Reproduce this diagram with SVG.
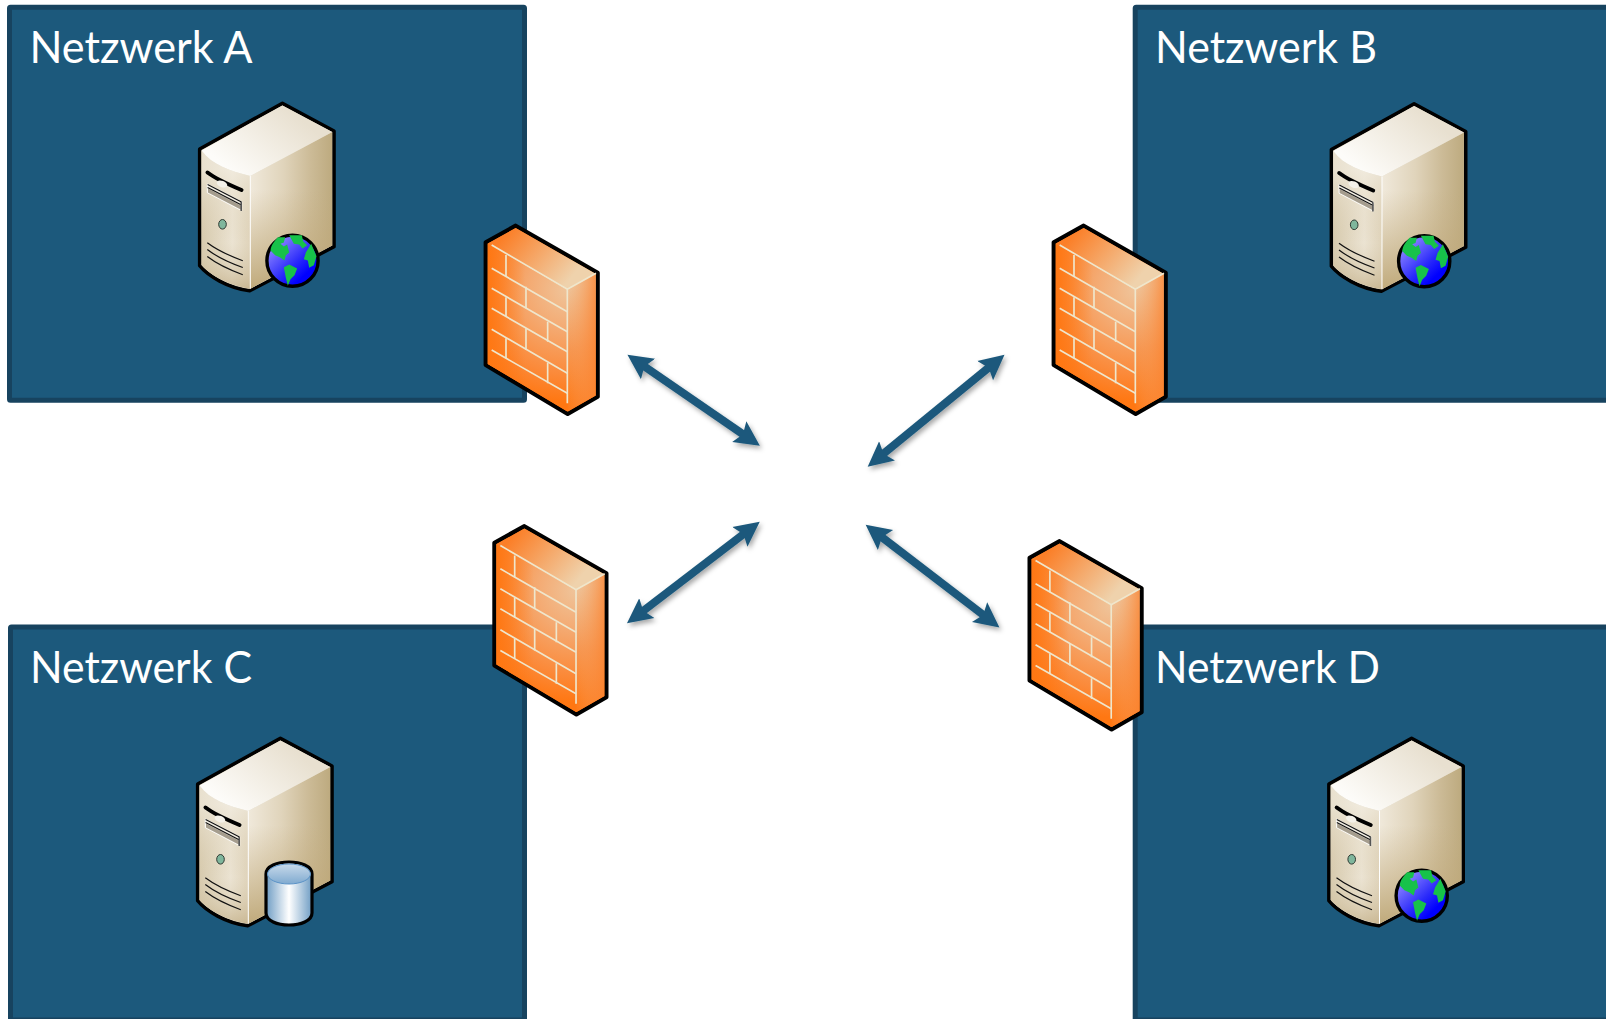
<svg xmlns="http://www.w3.org/2000/svg" xmlns:xlink="http://www.w3.org/1999/xlink" width="1606" height="1019" viewBox="0 0 1606 1019">
<style>
.net{fill:#1c597c;stroke:#17435f;stroke-width:5}
.lbl{font-family:"Lato","Open Sans","Liberation Sans",sans-serif;font-size:44px;fill:#fff}
.arr{fill:none;stroke:#1c597c;stroke-width:8;marker-start:url(#head);marker-end:url(#head)}
.brick{fill:none;stroke:#efe6cc}
.edge{stroke:#000;stroke-linejoin:round}
</style>
<defs>
<marker id="head" markerUnits="userSpaceOnUse" markerWidth="28" markerHeight="28" refX="14" refY="13" orient="auto-start-reverse" viewBox="0 0 28 28"><path d="M25,13 L0,0.5 L4.5,13 L0,25.5 Z" fill="#1c597c"/></marker>
<filter id="soft" x="-20%" y="-20%" width="140%" height="140%"><feDropShadow dx="2" dy="3" stdDeviation="2.5" flood-color="#000" flood-opacity=".35"/></filter>
<linearGradient id="srvTop" gradientUnits="userSpaceOnUse" x1="235" y1="175" x2="290" y2="110"><stop offset="0" stop-color="#fdfcf9"/><stop offset="1" stop-color="#e8e0d0"/></linearGradient>
<linearGradient id="srvFront" gradientUnits="userSpaceOnUse" x1="200" y1="0" x2="250" y2="0"><stop offset="0" stop-color="#d6c9ac"/><stop offset=".65" stop-color="#ebe3d2"/><stop offset="1" stop-color="#dfd3ba"/></linearGradient>
<linearGradient id="srvFrontB" gradientUnits="userSpaceOnUse" x1="0" y1="170" x2="0" y2="290"><stop offset="0" stop-color="#f4efe4" stop-opacity=".6"/><stop offset=".6" stop-color="#dacdb1" stop-opacity="0"/><stop offset="1" stop-color="#bfaa80" stop-opacity=".7"/></linearGradient>
<linearGradient id="srvSide" gradientUnits="userSpaceOnUse" x1="250" y1="0" x2="334" y2="0"><stop offset="0" stop-color="#f0e9db"/><stop offset=".4" stop-color="#e0d4bb"/><stop offset=".72" stop-color="#ccbb97"/><stop offset="1" stop-color="#bca97d"/></linearGradient>
<linearGradient id="srvSideB" gradientUnits="userSpaceOnUse" x1="0" y1="190" x2="0" y2="290"><stop offset="0" stop-color="#c4ae82" stop-opacity="0"/><stop offset="1" stop-color="#bda675" stop-opacity=".95"/></linearGradient>
<linearGradient id="globeFill" gradientUnits="userSpaceOnUse" x1="275" y1="243" x2="305" y2="275"><stop offset="0" stop-color="#8c84ff"/><stop offset=".65" stop-color="#2a2afa"/><stop offset="1" stop-color="#0000ff"/></linearGradient>
<linearGradient id="dbBody" gradientUnits="userSpaceOnUse" x1="266" y1="0" x2="312" y2="0"><stop offset="0" stop-color="#6f9dc4"/><stop offset=".5" stop-color="#fff"/><stop offset="1" stop-color="#6f9dc4"/></linearGradient>
<linearGradient id="dbTop" gradientUnits="userSpaceOnUse" x1="0" y1="862" x2="0" y2="884"><stop offset="0" stop-color="#cfdfed"/><stop offset="1" stop-color="#80aad0"/></linearGradient>
<linearGradient id="fwTop" gradientUnits="userSpaceOnUse" x1="505" y1="235" x2="565" y2="285"><stop offset="0" stop-color="#fb7f28"/><stop offset="1" stop-color="#efd2ac"/></linearGradient>
<radialGradient id="fwFace" gradientUnits="userSpaceOnUse" cx="567" cy="290" r="112"><stop offset="0" stop-color="#efc49a"/><stop offset=".35" stop-color="#f4aa72"/><stop offset=".75" stop-color="#fb8a3a"/><stop offset="1" stop-color="#ff7712"/></radialGradient>
<linearGradient id="fwLeft" gradientUnits="userSpaceOnUse" x1="487" y1="0" x2="525" y2="0"><stop offset="0" stop-color="#ff7712"/><stop offset="1" stop-color="#ff7712" stop-opacity="0"/></linearGradient>
<linearGradient id="fwSide" gradientUnits="userSpaceOnUse" x1="575" y1="285" x2="585" y2="410"><stop offset="0" stop-color="#eec59c"/><stop offset=".5" stop-color="#f69650"/><stop offset="1" stop-color="#ff7712"/></linearGradient>
<linearGradient id="fwSideH" gradientUnits="userSpaceOnUse" x1="567" y1="0" x2="598" y2="0"><stop offset="0" stop-color="#f7a86c" stop-opacity="0"/><stop offset="1" stop-color="#fb822e" stop-opacity=".85"/></linearGradient>
<g id="server">
<path d="M199.7,149 L282.4,103.3 L334,131 V246.7 L249.7,290.7 C228,288 208,276 199.7,265.7 Z" fill="#d9cfb8" class="edge" stroke-width="3.6"/>
<path d="M201.5,150.5 C212,165 230,171 250.3,176 V288.7 C230,286 210,275 201.5,265 Z" fill="url(#srvFront)"/>
<path d="M201.5,150.5 C212,165 230,171 250.3,176 V288.7 C230,286 210,275 201.5,265 Z" fill="url(#srvFrontB)"/>
<path d="M250.3,176 L332.2,132 V245.6 L250.3,288.7 Z" fill="url(#srvSide)"/>
<path d="M250.3,176 L332.2,132 V245.6 L250.3,288.7 Z" fill="url(#srvSideB)"/>
<path d="M201.5,150.5 L282.4,105.4 L332.2,132 L250.3,176 C230,171 212,165 201.5,150.5 Z" fill="url(#srvTop)"/>
<path d="M250.3,176 V288.7" stroke="#fff" stroke-width="1" fill="none"/>
<path d="M207.3,184 L241.7,201.7 V210.7 L207.3,192.7 Z" fill="#f2eee4" stroke="#fff" stroke-width=".8"/>
<path d="M208,188.5 L241.7,206 V210 L208,192.5 Z" fill="#a59d8e"/>
<path d="M207.6,184.5 L241.5,202 M207.6,187.5 L241.5,205" fill="none" stroke="#111" stroke-width="1.2"/>
<path d="M241.2,202 V211" stroke="#555" stroke-width="1.6"/>
<path d="M207.5,172.5 C216,179 232,186 241.5,190" fill="none" stroke="#000" stroke-width="4" stroke-linecap="round"/>
<ellipse cx="222" cy="184" rx="5.5" ry="3.2" transform="rotate(22 222 184)" fill="#f4f1e9"/>
<ellipse cx="222.5" cy="224.3" rx="3.8" ry="4.8" fill="#7fb69c" stroke="#2f3a33" stroke-width="1"/>
<path d="M207.3,242.7 C217,250 230,256 242.8,260.7 M207.3,249.5 C217,257 230,263 242.8,267.5 M207.3,256.5 C217,264 230,270 242.8,274.7" fill="none" stroke="#111" stroke-width="1.2"/>
</g>
<g id="globe">
<circle cx="292.5" cy="260.7" r="25.6" fill="url(#globeFill)" stroke="#000" stroke-width="3.4"/>
<g transform="translate(268.5 224.5) scale(.3333)" fill="#17c24a">
<path d="M6,78 C8,60 18,50 28,38 L50,38 L46,54 L36,58 L46,66 L56,60 L62,84 L52,92 L48,108 L34,98 L20,92 Z"/>
<path d="M46,128 L62,120 L86,132 L78,152 L66,164 L58,184 L52,160 Z"/>
<path d="M62,32 L100,32 L104,50 L116,62 L102,72 L92,60 L76,58 Z"/>
<path d="M112,84 L128,58 L144,95 L136,122 L122,130 L118,108 L106,104 Z"/>
</g>
</g>
<g id="firewall">
<path d="M485.7,242.3 L515.7,225.7 L597.7,272.7 V396.7 L567.7,414 L485.7,365 Z" fill="#ff7712" class="edge" stroke-width="4.2"/>
<path d="M487.8,243.6 L567.3,290 V411.6 L487.8,364 Z" fill="url(#fwFace)"/>
<path d="M487.8,243.6 L567.3,290 V411.6 L487.8,364 Z" fill="url(#fwLeft)"/>
<path d="M567.3,290 L595.6,273.8 V395.6 L567.7,411.6 Z" fill="url(#fwSide)"/>
<path d="M567.3,290 L595.6,273.8 V395.6 L567.7,411.6 Z" fill="url(#fwSideH)"/>
<path d="M487.8,243.6 L515.7,228 L595.6,273.8 L567.3,290 Z" fill="url(#fwTop)"/>
<g transform="translate(470 210) scale(.3333)" class="brick" style="stroke-width:5">
<path d="M65,105 L292,238 L378,190 M65,175 L292,305 M65,235 L292,365 M65,295 L292,425 M65,358 L292,490 M65,420 L292,550"/>
<path d="M108,135 V200 M168,230 V295 M108,262 V320 M233,335 V395 M168,355 V420 M108,385 V445 M233,458 V520 M292,238 V580"/>
</g>
</g>
</defs>
<rect width="1606" height="1019" fill="#fff"/>
<g id="netA"><rect class="net" x="9.5" y="7.2" width="515" height="393" rx="1"/><text class="lbl" x="29.5" y="62.5" textLength="223" lengthAdjust="spacingAndGlyphs">Netzwerk A</text></g>
<g id="netB"><rect class="net" x="1135.2" y="7.2" width="480" height="393" rx="1"/><text class="lbl" x="1155" y="62.5" textLength="222" lengthAdjust="spacingAndGlyphs">Netzwerk B</text></g>
<g id="netC"><rect class="net" x="10.5" y="627" width="514" height="393" rx="1"/><text class="lbl" x="30" y="682.5" textLength="222" lengthAdjust="spacingAndGlyphs">Netzwerk C</text></g>
<g id="netD"><rect class="net" x="1135.2" y="627" width="480" height="393" rx="1"/><text class="lbl" x="1155" y="682.5" textLength="225" lengthAdjust="spacingAndGlyphs">Netzwerk D</text></g>
<g id="serverA"><use href="#server"/><use href="#globe"/></g>
<g id="serverB" transform="translate(1131.7 0.5)"><use href="#server"/><use href="#globe"/></g>
<g id="serverC" transform="translate(-2 635)"><use href="#server"/></g>
<g id="dbC">
<path d="M266,874 C266,858 312,858 312,874 V913 C312,929 266,929 266,913 Z" fill="url(#dbBody)" stroke="#000" stroke-width="3.2"/>
<ellipse cx="289" cy="874" rx="21.5" ry="10" fill="url(#dbTop)" stroke="#5b93c7" stroke-width="1"/>
</g>
<g id="serverD" transform="translate(1129.2 635)"><use href="#server"/><use href="#globe"/></g>
<g id="firewallA"><use href="#firewall"/></g>
<g id="firewallB" transform="translate(568 0)"><use href="#firewall"/></g>
<g id="firewallC" transform="translate(8.7 300.5)"><use href="#firewall"/></g>
<g id="firewallD" transform="translate(543.9 315.5)"><use href="#firewall"/></g>
<g id="connectors" filter="url(#soft)">
<line class="arr" x1="636.5" y1="361" x2="750.8" y2="439.6"/>
<line class="arr" x1="996" y1="361.7" x2="876.2" y2="459.7"/>
<line class="arr" x1="751" y1="528.4" x2="635.7" y2="616.6"/>
<line class="arr" x1="874.4" y1="531.5" x2="990.7" y2="620.7"/>
</g>
</svg>
